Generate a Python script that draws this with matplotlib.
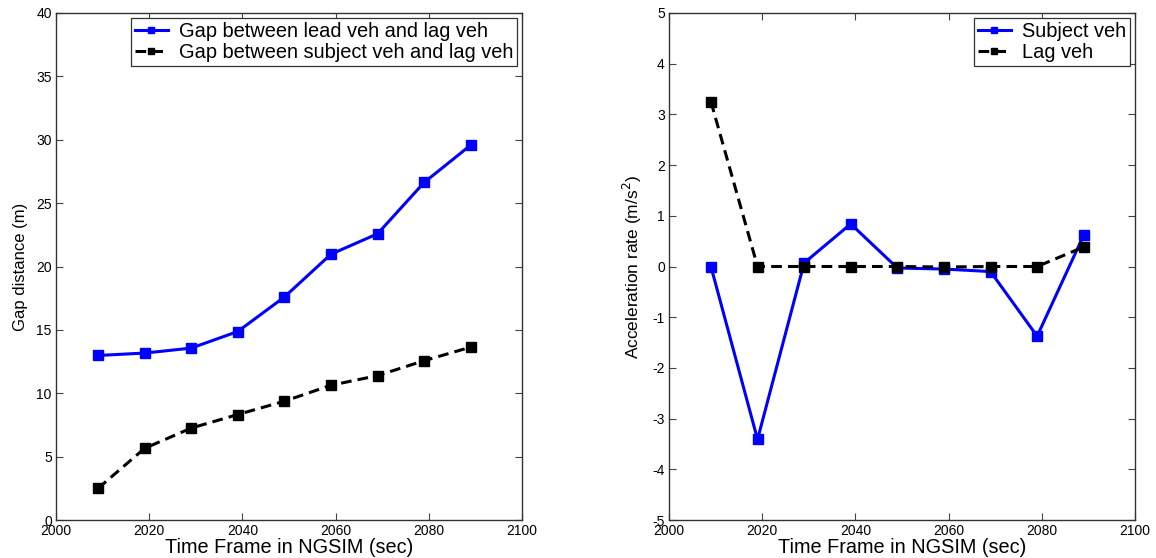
import numpy as np
import matplotlib
matplotlib.use('Agg')
import matplotlib.pyplot as plt

plt.rcParams['font.family'] = ['Liberation Sans', 'DejaVu Sans']
plt.rcParams['axes.unicode_minus'] = False

# time frames (sec)
frames = [2009, 2019, 2029, 2039, 2049, 2059, 2069, 2079, 2089]

# gap distances (m)
gap_lead_lag = [12.98, 13.17, 13.56, 14.87, 17.59, 20.97, 22.58, 26.63, 29.58]
gap_subj_lag = [2.49, 5.65, 7.25, 8.32, 9.37, 10.63, 11.39, 12.57, 13.64]

# acceleration rates (m/s^2)
acc_subject = [0.0, -3.41, 0.07, 0.84, -0.03, -0.05, -0.1, -1.375, 0.62]
acc_lag = [3.25, 0.0, 0.0, 0.0, 0.0, -0.01, 0.0, 0.0, 0.385]

fig = plt.figure(figsize=(11.56, 5.58), dpi=100)
ax1 = fig.add_axes([56/1156, 38/558, 466/1156, 507/558])
ax2 = fig.add_axes([669/1156, 38/558, 466/1156, 507/558])

mk = dict(marker='s', markersize=7, linewidth=2.2)

ax1.plot(frames, gap_lead_lag, color='#0000ff', linestyle='-', label='Gap between lead veh and lag veh', **mk)
ax1.plot(frames, gap_subj_lag, color='black', linestyle='--', dashes=(3.5, 2), label='Gap between subject veh and lag veh', **mk)
ax1.set_xlim(2000, 2100)
ax1.set_ylim(0, 40)
ax1.set_xticks(np.arange(2000, 2101, 20))
ax1.set_yticks(np.arange(0, 41, 5))
ax1.set_xlabel('Time Frame in NGSIM (sec)', fontsize=14.3, labelpad=0)
ax1.set_ylabel('Gap distance (m)', fontsize=12, labelpad=6)

ax2.plot(frames, acc_subject, color='#0000ff', linestyle='-', label='Subject veh', **mk)
ax2.plot(frames, acc_lag, color='black', linestyle='--', dashes=(3.5, 2), label='Lag veh', **mk)
ax2.set_xlim(2000, 2100)
ax2.set_ylim(-5, 5)
ax2.set_xticks(np.arange(2000, 2101, 20))
ax2.set_yticks(np.arange(-5, 6, 1))
ax2.set_xlabel('Time Frame in NGSIM (sec)', fontsize=14.3, labelpad=0)
ax2.set_ylabel('Acceleration rate (m/s$^2$)', fontsize=12.5, labelpad=6)

for ax in (ax1, ax2):
    ax.tick_params(direction='in', top=True, right=True, length=5, width=0.8,
                   labelsize=10, pad=3, color='#444444')
    for sp in ax.spines.values():
        sp.set_color('#333333')
        sp.set_linewidth(1.0)
    leg = ax.legend(loc='upper right', fontsize=14.4, fancybox=False, framealpha=1,
                    edgecolor='#333333', borderpad=0.2, labelspacing=0.1,
                    handlelength=1.65, handletextpad=0.55, borderaxespad=0.25,
                    markerscale=0.65)
    leg.get_frame().set_linewidth(0.9)

fig.savefig('out.png', dpi=100)
